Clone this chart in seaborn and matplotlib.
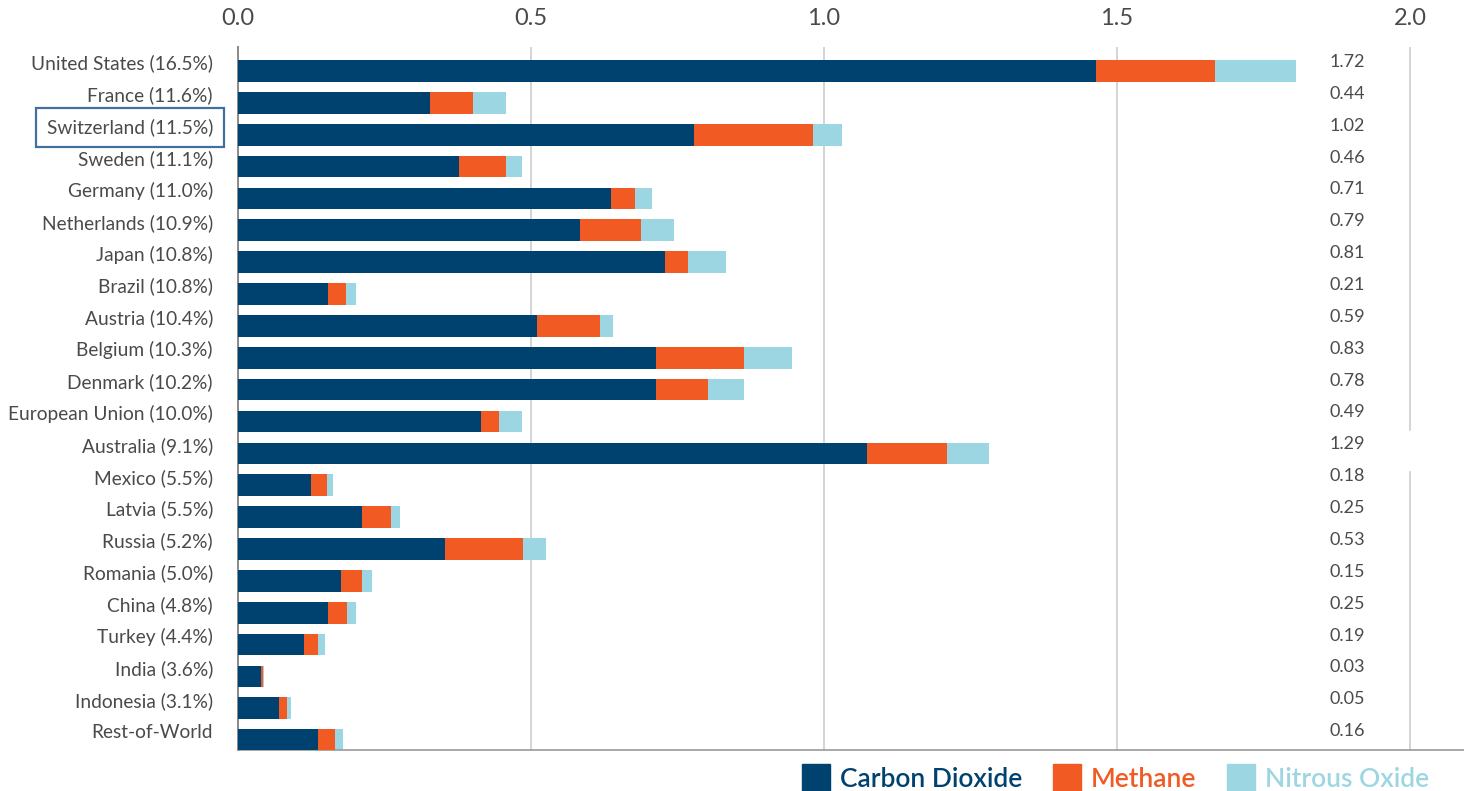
"""Stacked bars of GHG contributions by gas, per country."""

import matplotlib.pyplot as plt
import matplotlib.transforms as mtransforms
import pandas as pd
import seaborn as sns
from matplotlib.patches import Patch, Rectangle

countries = [
    "United States (16.5%)", "France (11.6%)", "Switzerland (11.5%)",
    "Sweden (11.1%)", "Germany (11.0%)", "Netherlands (10.9%)",
    "Japan (10.8%)", "Brazil (10.8%)", "Austria (10.4%)", "Belgium (10.3%)",
    "Denmark (10.2%)", "European Union (10.0%)", "Australia (9.1%)",
    "Mexico (5.5%)", "Latvia (5.5%)", "Russia (5.2%)", "Romania (5.0%)",
    "China (4.8%)", "Turkey (4.4%)", "India (3.6%)", "Indonesia (3.1%)",
    "Rest-of-World",
]
carbon_dioxide = [1.464, 0.328, 0.778, 0.377, 0.637, 0.584, 0.729, 0.154, 0.510,
                  0.713, 0.713, 0.415, 1.073, 0.125, 0.212, 0.353, 0.176, 0.154,
                  0.113, 0.039, 0.070, 0.137]
methane = [0.203, 0.073, 0.203, 0.080, 0.040, 0.104, 0.039, 0.030, 0.108, 0.150,
           0.089, 0.030, 0.137, 0.027, 0.049, 0.133, 0.036, 0.032, 0.024, 0.004,
           0.014, 0.029]
nitrous_oxide = [0.138, 0.056, 0.050, 0.028, 0.029, 0.056, 0.065, 0.017, 0.022,
                 0.082, 0.061, 0.040, 0.072, 0.010, 0.015, 0.040, 0.017, 0.015,
                 0.011, 0.002, 0.006, 0.013]
totals = ["1.72", "0.44", "1.02", "0.46", "0.71", "0.79", "0.81", "0.21", "0.59",
          "0.83", "0.78", "0.49", "1.29", "0.18", "0.25", "0.53", "0.15", "0.25",
          "0.19", "0.03", "0.05", "0.16"]
x_ticks = [0.0, 0.5, 1.0, 1.5, 2.0]

C_CO2 = "#00426f"
C_CH4 = "#f15a22"
C_N2O = "#9dd6e3"
TXT = "#4a4a4a"

df = pd.DataFrame({
    "country": countries,
    "co2": carbon_dioxide,
    "ch4": methane,
    "n2o": nitrous_oxide,
})
df["cum_ch4"] = df["co2"] + df["ch4"]
df["cum_n2o"] = df["cum_ch4"] + df["n2o"]

sns.set_theme(style="white")
plt.rcParams["font.family"] = ["Lato", "DejaVu Sans"]

fig = plt.figure(figsize=(14.64, 7.91), dpi=100)
ax = fig.add_axes([238 / 1464, 41 / 791, 1226 / 1464, 703 / 791])

bar_w = 0.68
for col, c, z in [("cum_n2o", C_N2O, 2), ("cum_ch4", C_CH4, 3), ("co2", C_CO2, 4)]:
    sns.barplot(df, x=col, y="country", color=c, width=bar_w, saturation=1,
                linewidth=0, edgecolor="none", ax=ax, zorder=z)

ax.set_xlim(0, 1226 / 586)
ax.set_ylim(21.31, -0.753)
ax.set_xticks(x_ticks)
ax.set_xticklabels([f"{t:.1f}" for t in x_ticks])
ax.xaxis.tick_top()
ax.tick_params(axis="x", length=0, pad=13, labelsize=17, labelcolor=TXT)
ax.tick_params(axis="y", length=0, pad=18, labelsize=13.8, labelcolor=TXT)
ax.set(xlabel="", ylabel="")
ax.xaxis.grid(True, color="#c9c9c9", lw=1.1)
ax.set_axisbelow(True)

for side in ["top", "right"]:
    ax.spines[side].set_visible(False)
ax.spines["left"].set_color("#8a8a8a")
ax.spines["left"].set_linewidth(1.4)
ax.spines["bottom"].set_color("#9a9a9a")
ax.spines["bottom"].set_linewidth(1.2)

# labels sit a little above the bar centres
up = mtransforms.ScaledTranslation(0, 9 / 100, fig.dpi_scale_trans)
for lab in ax.get_yticklabels():
    lab.set_transform(lab.get_transform() + up)
    if lab.get_text().startswith("Switzerland"):
        lab.set_bbox(dict(boxstyle="square,pad=0.55", fc="none",
                          ec="#4170a0", lw=1.6))

# white patch behind the Australia total
ax.add_patch(Rectangle((1.503, 11.29), 0.7, 1.23, color="white", zorder=1))

for i, t in enumerate(totals):
    ax.text(1.862, i, t, ha="left", va="center", fontsize=13, color=TXT,
            transform=ax.transData + up, zorder=5)

handles = [Patch(color=C_CO2), Patch(color=C_CH4), Patch(color=C_N2O)]
fig.legend(handles, ["Carbon Dioxide", "Methane", "Nitrous Oxide"],
           loc="center left", bbox_to_anchor=(802 / 1464, 1 - 778 / 791),
           ncol=3, frameon=False, prop={"size": 19, "weight": "semibold"},
           handlelength=1.06, handleheight=1.15, handletextpad=0.38,
           columnspacing=1.17, borderpad=0, borderaxespad=0,
           labelcolor=[C_CO2, C_CH4, C_N2O])

fig.savefig("out.png", dpi=100)
plt.close()
